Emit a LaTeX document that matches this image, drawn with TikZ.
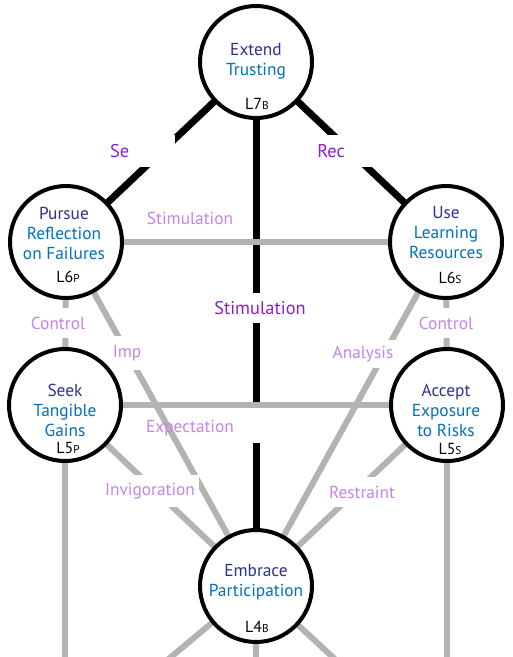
\documentclass[tikz,border=0pt]{standalone}
\usepackage{fontspec}
\setmainfont{PT Sans}
\usetikzlibrary{calc, backgrounds}
\definecolor{TitleBlue}{RGB}{46,49,146}
\definecolor{SubBlue}{RGB}{0,113,188}
\definecolor{LinkViolet}{RGB}{140,30,210}
\definecolor{LinkLilac}{RGB}{196,132,232}
\definecolor{LinkGrey}{RGB}{179,179,179}
\newcommand{\lvl}[2]{L#1{\fontsize{8.5}{9}\selectfont #2}}

\begin{document}
\begin{tikzpicture}[
        x=0.75pt, y=-0.75pt,
        font=\fontsize{13}{15}\selectfont,
        % Styles
        station/.style={circle, draw=black, line width=3pt, fill=white, minimum size=84pt, inner sep=0pt},
        title/.style={align=center, text=SubBlue, inner sep=0pt},
        lvltag/.style={font=\fontsize{12}{13}\selectfont, inner sep=0pt},
        bond/.style={line width=5.25pt, black},
        link/.style={line width=4.5pt, LinkGrey},
        strong/.style={text=LinkViolet, font=\fontsize{13.8}{15}\selectfont, fill=white, inner xsep=3pt, inner ysep=0pt},
        weak/.style={text=LinkLilac, font=\fontsize{13}{15}\selectfont, inner xsep=3pt, inner ysep=0pt}
    ]
    \useasboundingbox (0,0) rectangle (512,657);

    % 1. THE STATIONS
    \node[station] (extend) at (256,62) {};
    \node[station] (pursue) at (66,242) {};
    \node[station] (use) at (446,242) {};
    \node[station] (seek) at (65,405) {};
    \node[station] (accept) at (447,405) {};
    \node[station] (embrace) at (256,586) {};

    \node[title] (extend-t) at (256,61) {{\color{TitleBlue}Extend}\\Trusting};
    \node[title] (pursue-t) at (64,233) {{\color{TitleBlue}Pursue}\\Reflection\\on Failures};
    \node[title] (use-t) at (446,233) {{\color{TitleBlue}Use}\\Learning\\Resources};
    \node[title] (seek-t) at (65,410) {{\color{TitleBlue}Seek}\\Tangible\\Gains};
    \node[title] (accept-t) at (446,410) {{\color{TitleBlue}Accept}\\Exposure\\to Risks};
    \node[title] (embrace-t) at (256,582) {{\color{TitleBlue}Embrace}\\Participation};

    \node[lvltag] (extend-l) at (257,104) {\lvl{7}{B}};
    \node[lvltag] (pursue-l) at (68,277) {\lvl{6}{P}};
    \node[lvltag] (use-l) at (450,278) {\lvl{6}{S}};
    \node[lvltag] (seek-l) at (68,448) {\lvl{5}{P}};
    \node[lvltag] (accept-l) at (450,449) {\lvl{5}{S}};
    \node[lvltag] (embrace-l) at (257,627) {\lvl{4}{B}};

    % 2. THE CONNECTORS (behind the stations)
    \coordinate (vcut1) at (256,406);
    \coordinate (vcut2) at (256,443);
    \coordinate (outL) at (165,662);
    \coordinate (outM) at (256,662);
    \coordinate (outR) at (338,662);
    \coordinate (outSeek) at (65,662);
    \coordinate (outAccept) at (447,662);

    \begin{scope}[on background layer]
        % black bonds
        \draw[bond] (extend.center) -- (pursue.center);
        \draw[bond] (extend.center) -- (use.center);
        \draw[bond] (extend.center) -- (vcut1);
        \draw[bond] (vcut2) -- (embrace.center);

        \node[strong, text width=45pt, align=left, inner xsep=4pt, minimum height=24pt] (se) at (140,151) {Se};
        \node[strong, text width=37pt, align=left, inner xsep=4pt, minimum height=24pt] (rec) at (342,151) {Rec};
        \node[strong, minimum height=22.5pt] (stim-b) at (260,308) {Stimulation};

        % grey links
        \draw[link] (pursue.center) -- (use.center);
        \draw[link] (pursue.center) -- (seek.center);
        \draw[link] (use.center) -- (accept.center);
        \draw[link] (seek.center) -- (accept.center);
        \draw[link] (pursue.center) -- (embrace.center);
        \draw[link] (use.center) -- (embrace.center);
        \draw[link] (seek.center) -- (embrace.center);
        \draw[link] (accept.center) -- (embrace.center);
        \draw[link] (seek.center) -- (outSeek);
        \draw[link] (accept.center) -- (outAccept);
        \draw[link] (embrace.center) -- (outL);
        \draw[link] (embrace.center) -- (outM);
        \draw[link] (embrace.center) -- (outR);

        % 3. LINK LABELS
        \node[weak] (stim-g) at (190,218) {Stimulation};
        \node[weak] (expect) at (190,428) {Expectation};
        \node[weak, fill=white, minimum height=22pt] (ctrl-l) at (58,323) {Control};
        \node[weak, fill=white, minimum height=22pt] (ctrl-r) at (446,323) {Control};
        \node[weak, fill=white, minimum height=25pt] (imp) at (127,353) {Imp};
        \node[weak, fill=white, minimum height=21pt] (analysis) at (363,354) {Analysis};
        \node[weak, fill=white, minimum height=24pt] (invig) at (150,491) {Invigoration};
        \node[weak, fill=white, minimum height=22.5pt] (restraint) at (362,492) {Restraint};
    \end{scope}
\end{tikzpicture}
\end{document}
